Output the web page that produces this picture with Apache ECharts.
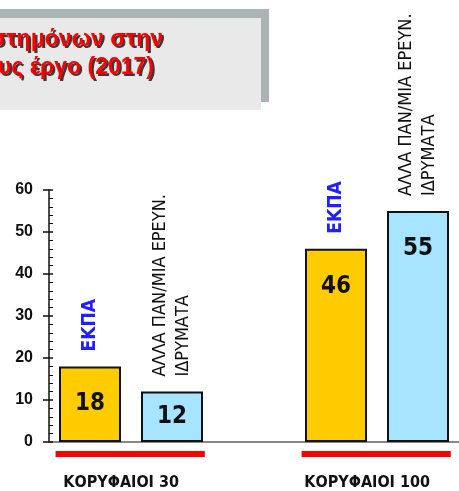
<!DOCTYPE html>
<html>
<head>
<meta charset="utf-8">
<script src="https://cdn.jsdelivr.net/npm/echarts@6/dist/echarts.min.js"></script>
<style>
  html, body { margin: 0; padding: 0; background: #fff; }
  #chart { width: 459px; height: 491px; }
</style>
</head>
<body>
<div id="chart"></div>
<script>
// groups of scientists and the two kinds of institutions
var groups = ['ΚΟΡΥΦΑΙΟΙ 30', 'ΚΟΡΥΦΑΙΟΙ 100']
var institutions = ['ΕΚΠΑ', 'ΑΛΛΑ ΠΑΝ/ΜΙΑ ΕΡΕΥΝ.\nΙΔΡΥΜΑΤΑ']
var values30 = [18, 12]
var values100 = [46, 55]
var titleLines = ['στημόνων στην', 'υς έργο (2017)']
var yTicks = [0, 10, 20, 30, 40, 50, 60]

var narrow = "'Liberation Sans Narrow', 'Arial Narrow', 'DejaVu Sans Condensed', sans-serif"
var colors = ['#ffcc00', '#a6e4ff']

// 5 slots: two bars, a gap, two bars
var categories = []
var values = []
var names = []
var groupRanges = []
;[values30, values100].forEach(function (vals, g) {
  if (g > 0) {
    categories.push('')
    values.push('-')
    names.push('')
  }
  var start = categories.length
  vals.forEach(function (v, i) {
    categories.push(groups[g] + ' ' + institutions[i])
    values.push(v)
    names.push(i)
  })
  groupRanges.push([start, categories.length - 1, 0])
})

var barData = values.map(function (v, k) {
  if (v === '-') return '-'
  var big = v > 30
  return {
    value: v,
    itemStyle: { color: colors[names[k]] },
    label: big ? { position: 'insideTop', distance: 26 } : { position: 'inside' }
  }
})

var nameData = values.map(function (v, k) {
  if (v === '-') return '-'
  var isEkpa = names[k] === 0
  return {
    value: v,
    label: {
      formatter: institutions[names[k]],
      color: isEkpa ? '#2020ff' : '#111',
      fontWeight: isEkpa ? 'bold' : 'normal',
      fontSize: isEkpa ? 19 : 18
    }
  }
})

// title: shadow copy first, red text on top
var titleFont = 'bold 23px "Liberation Sans", Arial, sans-serif'
var titleGraphics = []
titleLines.forEach(function (t, i) {
  var x = [163, 154][i]
  var y = [40, 68][i]
  titleGraphics.push({
    type: 'text', x: x + 2, y: y + 2,
    style: { text: t, fill: '#3a3a3a', align: 'right', verticalAlign: 'middle', font: titleFont }
  })
  titleGraphics.push({
    type: 'text', x: x, y: y,
    style: { text: t, fill: '#ff0000', align: 'right', verticalAlign: 'middle', font: titleFont }
  })
})

var chart = echarts.init(document.getElementById('chart'))

chart.setOption({
  animation: false,
  graphic: [
    { type: 'rect', shape: { x: 0, y: 9, width: 269, height: 93 }, style: { fill: '#aab4b4' } },
    { type: 'rect', shape: { x: 0, y: 18, width: 261, height: 92 }, style: { fill: '#e9e9e9' } }
  ].concat(titleGraphics),
  grid: {
    left: 49,
    right: -12,
    top: 190,
    bottom: 49
  },
  xAxis: {
    type: 'category',
    data: categories,
    axisLine: { lineStyle: { color: '#888', width: 2 } },
    axisTick: { length: 4, lineStyle: { color: '#111', width: 1.5 } },
    axisLabel: { show: false }
  },
  yAxis: [{
    type: 'value',
    min: yTicks[0],
    max: yTicks[yTicks.length - 1],
    interval: 10,
    axisLine: { show: true, lineStyle: { color: '#111', width: 1.5 } },
    axisTick: { show: true, length: 6, lineStyle: { color: '#111', width: 1.5 } },
    splitLine: { show: false },
    axisLabel: {
      margin: 16,
      color: '#111',
      fontSize: 16,
      fontWeight: 'bold',
      fontFamily: '"Liberation Sans", Arial, sans-serif'
    }
  }, {
    type: 'value',
    position: 'left',
    min: yTicks[0],
    max: yTicks[yTicks.length - 1],
    interval: 10,
    axisLine: { show: false },
    axisTick: { show: true, inside: true, length: 4, lineStyle: { color: '#111', width: 1.5 } },
    minorTick: { show: true, splitNumber: 5, length: 4, lineStyle: { color: '#111', width: 1 } },
    splitLine: { show: false },
    axisLabel: { show: false }
  }],
  series: [{
    type: 'bar',
    barWidth: 62,
    barGap: '-100%',
    data: barData,
    itemStyle: { borderColor: '#111', borderWidth: 2 },
    label: {
      show: true,
      color: '#111',
      fontSize: 24,
      fontWeight: 'bold',
      fontFamily: narrow
    }
  }, {
    type: 'bar',
    barWidth: 62,
    barGap: '-100%',
    data: nameData,
    itemStyle: { color: 'rgba(0,0,0,0)' },
    silent: true,
    label: {
      show: true,
      position: 'top',
      rotate: 90,
      align: 'left',
      verticalAlign: 'middle',
      distance: 15,
      lineHeight: 23,
      fontFamily: narrow
    }
  }, {
    type: 'custom',
    data: groupRanges,
    encode: { x: [0, 1], y: 2 },
    silent: true,
    renderItem: function (params, api) {
      var p0 = api.coord([api.value(0), 0])
      var p1 = api.coord([api.value(1), 0])
      var bw = api.size([1, 0])[0]
      var x0 = p0[0] - bw * 0.42
      var x1 = p1[0] + bw * 0.40
      return {
        type: 'group',
        children: [{
          type: 'rect',
          shape: { x: x0, y: p0[1] + 9, width: x1 - x0, height: 6 },
          style: { fill: '#ff0000' }
        }, {
          type: 'text',
          x: (p0[0] + p1[0]) / 2 - bw * 0.12,
          y: p0[1] + 41,
          style: {
            text: groups[params.dataIndex],
            fill: '#111',
            align: 'center',
            verticalAlign: 'middle',
            font: 'bold 16px ' + narrow
          }
        }]
      }
    }
  }]
})
</script>
</body>
</html>
